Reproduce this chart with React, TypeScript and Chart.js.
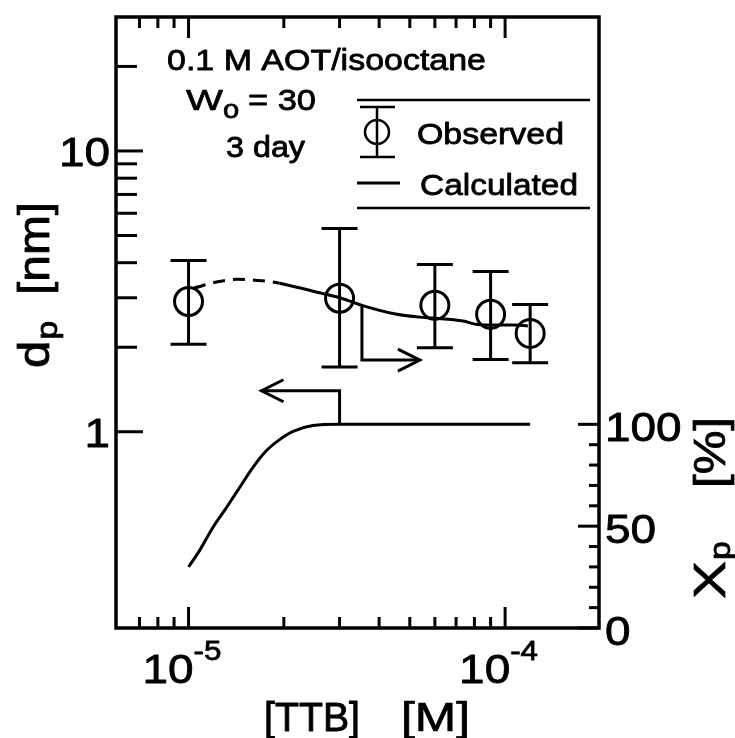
import React, { useEffect, useRef } from "react";
import { Chart, registerables } from "chart.js";

Chart.register(...registerables);

// ---------- data ----------
const obsX = [1e-5, 3e-5, 6e-5, 9e-5, 1.2e-4];
const obsY = [2.91, 2.99, 2.82, 2.62, 2.24];
const obsLow = [2.05, 1.7, 1.99, 1.81, 1.76];
const obsHigh = [4.07, 5.29, 3.94, 3.72, 2.84];

const calcX = [1.04e-5, 1.25e-5, 1.42e-5, 1.65e-5, 1.8e-5, 1.94e-5, 2.64e-5, 3.0e-5, 3.26e-5, 3.53e-5, 4.55e-5, 5.38e-5, 5.9e-5, 7.37e-5, 8.16e-5, 9.6e-5, 1.07e-4, 1.18e-4];
const calcY = [3.25, 3.43, 3.49, 3.46, 3.43, 3.38, 3.11, 3.0, 2.91, 2.82, 2.62, 2.56, 2.54, 2.48, 2.41, 2.4, 2.4, 2.38];
const calcDashedUntil = 5;

const xpX = [1.0e-5, 1.083e-5, 1.19e-5, 1.316e-5, 1.45e-5, 1.6e-5, 1.76e-5, 1.94e-5, 2.14e-5, 2.47e-5, 3.0e-5, 1.2e-4];
const xpY = [30, 38, 49, 59, 69, 79, 87, 92.5, 96.5, 99.4, 100, 100];

// arrows (data coordinates)
const leftArrowX = [3e-5, 3e-5, 1.7e-5];
const leftArrowXp = [100, 116.5, 116.5];
const rightArrowX = [3.53e-5, 3.53e-5, 5.38e-5];
const rightArrowD = [2.82, 1.8, 1.8];

// axes
const xMin = 5.9e-6;
const xMax = 1.98e-4;
const yMin = 0.2;
const yMax = 30;
const y2Min = 0;
const y2Max = 300;

const xMajorTicks = [1e-5, 1e-4];
const xMajorExp = ["-5", "-4"];
const xMinorTicks = [7e-6, 8e-6, 9e-6, 2e-5, 3e-5, 4e-5, 5e-5, 6e-5, 7e-5, 8e-5, 9e-5];
const yMajorTicks = [1, 10];
const yMajorLabels = ["1", "10"];
const yMinorTicks = [2, 3, 4, 5, 6, 7, 8, 9, 20];
const y2MajorTicks = [0, 50, 100];
const y2MajorLabels = ["0", "50", "100"];
const y2MinorTicks = [10, 20, 30, 40, 60, 70, 80, 90];

const FONT = '"Liberation Sans", Arial, Helvetica, sans-serif';
const SX = 1.12;
const TEXT_STROKE = 0.9;

function paint(ctx: CanvasRenderingContext2D, s: string, sx: number) {
  ctx.fillStyle = "#000";
  ctx.strokeStyle = "#000";
  ctx.lineWidth = TEXT_STROKE / sx;
  ctx.lineJoin = "round";
  ctx.fillText(s, 0, 0);
  ctx.strokeText(s, 0, 0);
}

function txt(ctx: CanvasRenderingContext2D, s: string, x: number, y: number, size: number, align: "left" | "right" | "center" = "left", width?: number) {
  ctx.save();
  ctx.font = `${size}px ${FONT}`;
  ctx.textAlign = "left";
  ctx.textBaseline = "alphabetic";
  const raw = ctx.measureText(s).width;
  const sx = width ? width / raw : SX;
  const w = raw * sx;
  let x0 = x;
  if (align === "right") x0 = x - w;
  else if (align === "center") x0 = x - w / 2;
  ctx.translate(x0, y);
  ctx.scale(sx, 1);
  paint(ctx, s, sx);
  ctx.restore();
  return w;
}

// rotated text (reading bottom to top); (bx, by) = baseline x, starting y
function rtxt(ctx: CanvasRenderingContext2D, s: string, bx: number, by: number, size: number, width?: number) {
  ctx.save();
  ctx.font = `${size}px ${FONT}`;
  ctx.textAlign = "left";
  ctx.textBaseline = "alphabetic";
  const raw = ctx.measureText(s).width;
  const sx = width ? width / raw : SX;
  ctx.translate(bx, by);
  ctx.rotate(-Math.PI / 2);
  ctx.scale(sx, 1);
  paint(ctx, s, sx);
  ctx.restore();
  return raw * sx;
}

function line(ctx: CanvasRenderingContext2D, pts: number[][], lw = 2.5) {
  ctx.save();
  ctx.strokeStyle = "#000";
  ctx.lineWidth = lw;
  ctx.lineCap = "butt";
  ctx.lineJoin = "miter";
  ctx.beginPath();
  pts.forEach((p, i) => (i === 0 ? ctx.moveTo(p[0], p[1]) : ctx.lineTo(p[0], p[1])));
  ctx.stroke();
  ctx.restore();
}

function arrowHead(ctx: CanvasRenderingContext2D, tipX: number, tipY: number, dir: number) {
  line(ctx, [
    [tipX - dir * 22, tipY - 11],
    [tipX, tipY],
    [tipX - dir * 22, tipY + 11],
  ], 3);
}

const decorPlugin = {
  id: "decor",
  afterDatasetsDraw(chart: any) {
    const ctx: CanvasRenderingContext2D = chart.ctx;
    const xs = chart.scales.x;
    const ys = chart.scales.y;
    const y2s = chart.scales.y2;
    const { left, right, top, bottom } = chart.chartArea;

    // error bars
    for (let i = 0; i < obsX.length; i++) {
      const px = xs.getPixelForValue(obsX[i]);
      const pl = ys.getPixelForValue(obsLow[i]);
      const ph = ys.getPixelForValue(obsHigh[i]);
      line(ctx, [[px, ph], [px, pl]], 3);
      line(ctx, [[px - 18, ph], [px + 18, ph]], 3);
      line(ctx, [[px - 18, pl], [px + 18, pl]], 3);
    }

    // arrows
    const la = leftArrowX.map((v, i) => [xs.getPixelForValue(v), y2s.getPixelForValue(leftArrowXp[i])]);
    line(ctx, la, 3);
    arrowHead(ctx, la[2][0], la[2][1], -1);
    const ra = rightArrowX.map((v, i) => [xs.getPixelForValue(v), ys.getPixelForValue(rightArrowD[i])]);
    line(ctx, ra, 3);
    arrowHead(ctx, ra[2][0], ra[2][1], 1);

    // frame
    ctx.save();
    ctx.strokeStyle = "#000";
    ctx.lineWidth = 3.5;
    ctx.strokeRect(left, top, right - left, bottom - top);
    ctx.restore();

    // x ticks (bottom and top, inward)
    xMajorTicks.forEach((v) => {
      const p = xs.getPixelForValue(v);
      line(ctx, [[p, bottom], [p, bottom - 21]], 3);
      line(ctx, [[p, top], [p, top + 21]], 3);
    });
    xMinorTicks.forEach((v) => {
      const p = xs.getPixelForValue(v);
      line(ctx, [[p, bottom], [p, bottom - 11]], 3);
      line(ctx, [[p, top], [p, top + 11]], 3);
    });
    // left ticks
    yMajorTicks.forEach((v) => {
      const p = ys.getPixelForValue(v);
      line(ctx, [[left, p], [left + 27, p]], 3);
    });
    yMinorTicks.forEach((v) => {
      const p = ys.getPixelForValue(v);
      line(ctx, [[left, p], [left + 21, p]], 3);
    });
    // right ticks
    y2MajorTicks.forEach((v) => {
      const p = y2s.getPixelForValue(v);
      line(ctx, [[right, p], [right - 21, p]], 3);
    });
    y2MinorTicks.forEach((v) => {
      const p = y2s.getPixelForValue(v);
      line(ctx, [[right, p], [right - 10, p]], 3);
    });

    // tick labels
    yMajorTicks.forEach((v, i) => {
      const p = ys.getPixelForValue(v);
      txt(ctx, yMajorLabels[i], 110, p + 15, 41, "right");
    });
    y2MajorTicks.forEach((v, i) => {
      const p = y2s.getPixelForValue(v);
      txt(ctx, y2MajorLabels[i], 605, p + 17, 41, "left");
    });
    xMajorTicks.forEach((v, i) => {
      const p = xs.getPixelForValue(v);
      const w = txt(ctx, "10", p - 46, 683, 41, "left");
      txt(ctx, xMajorExp[i], p - 46 + w, 660, 28, "left");
    });

    // axis titles
    txt(ctx, "[TTB]", 264, 731, 40, "left", 96);
    txt(ctx, "[M]", 401, 731, 40, "left", 69);

    const dw = rtxt(ctx, "d", 49, 368, 44);
    rtxt(ctx, "p", 57, 368 - dw - 1, 30);
    rtxt(ctx, "[nm]", 49, 295, 44, 93);

    const xw = rtxt(ctx, "X", 725, 599, 44, 38);
    rtxt(ctx, "p", 730, 599 - xw - 1, 30);
    rtxt(ctx, "[%]", 725, 488, 44, 71);

    // annotations
    txt(ctx, "0.1 M AOT/isooctane", 167, 70, 30, "left", 319);
    const ww = txt(ctx, "W", 186, 110, 30, "left", 37);
    txt(ctx, "o", 186 + ww, 118, 26, "left");
    txt(ctx, "= 30", 248, 110, 30, "left", 68);
    txt(ctx, "3 day", 226, 157, 30, "left", 79);

    // legend
    line(ctx, [[357, 100], [590, 100]], 2.5);
    line(ctx, [[357, 208], [590, 208]], 2.5);
    line(ctx, [[377, 107], [377, 157]], 2.5);
    line(ctx, [[360, 107], [395, 107]], 2.5);
    line(ctx, [[360, 157], [395, 157]], 2.5);
    ctx.save();
    ctx.strokeStyle = "#000";
    ctx.lineWidth = 2.5;
    ctx.beginPath();
    ctx.arc(377, 132, 12, 0, Math.PI * 2);
    ctx.stroke();
    ctx.restore();
    txt(ctx, "Observed", 417, 144, 30, "left", 147);
    line(ctx, [[357, 183], [400, 183]], 3);
    txt(ctx, "Calculated", 420, 195, 30, "left", 158);
  },
};

export default function App() {
  const ref = useRef<HTMLCanvasElement | null>(null);
  useEffect(() => {
    document.body.style.margin = "0";
    const canvas = ref.current!;
    const chart = new Chart(canvas, {
      type: "scatter",
      data: {
        datasets: [
          {
            label: "Observed",
            data: obsX.map((x, i) => ({ x, y: obsY[i] })),
            yAxisID: "y",
            pointStyle: "circle",
            pointRadius: 14,
            pointBorderWidth: 3,
            pointBorderColor: "#000",
            pointBackgroundColor: "rgba(0,0,0,0)",
            showLine: false,
          },
          {
            label: "Calculated",
            data: calcX.map((x, i) => ({ x, y: calcY[i] })),
            yAxisID: "y",
            showLine: true,
            pointRadius: 0,
            borderColor: "#000",
            borderWidth: 3,
            cubicInterpolationMode: "monotone",
            segment: {
              borderDash: (c: any) => (c.p1DataIndex <= calcDashedUntil ? [12, 8] : undefined),
            },
          },
          {
            label: "Xp",
            data: xpX.map((x, i) => ({ x, y: xpY[i] })),
            yAxisID: "y2",
            showLine: true,
            pointRadius: 0,
            borderColor: "#000",
            borderWidth: 3,
            cubicInterpolationMode: "monotone",
          },
        ],
      },
      options: {
        responsive: false,
        animation: false,
        layout: { padding: { left: 116, right: 136, top: 14, bottom: 110 } },
        plugins: { legend: { display: false }, tooltip: { enabled: false } },
        scales: {
          x: { type: "logarithmic", min: xMin, max: xMax, display: false },
          y: { type: "logarithmic", min: yMin, max: yMax, display: false },
          y2: { type: "linear", min: y2Min, max: y2Max, display: false, position: "right" },
        },
      },
      plugins: [decorPlugin],
    } as any);
    return () => chart.destroy();
  }, []);
  return (
    <div style={{ width: 735, height: 738, background: "#fff" }}>
      <canvas ref={ref} width={735} height={738} style={{ display: "block" }} />
    </div>
  );
}
